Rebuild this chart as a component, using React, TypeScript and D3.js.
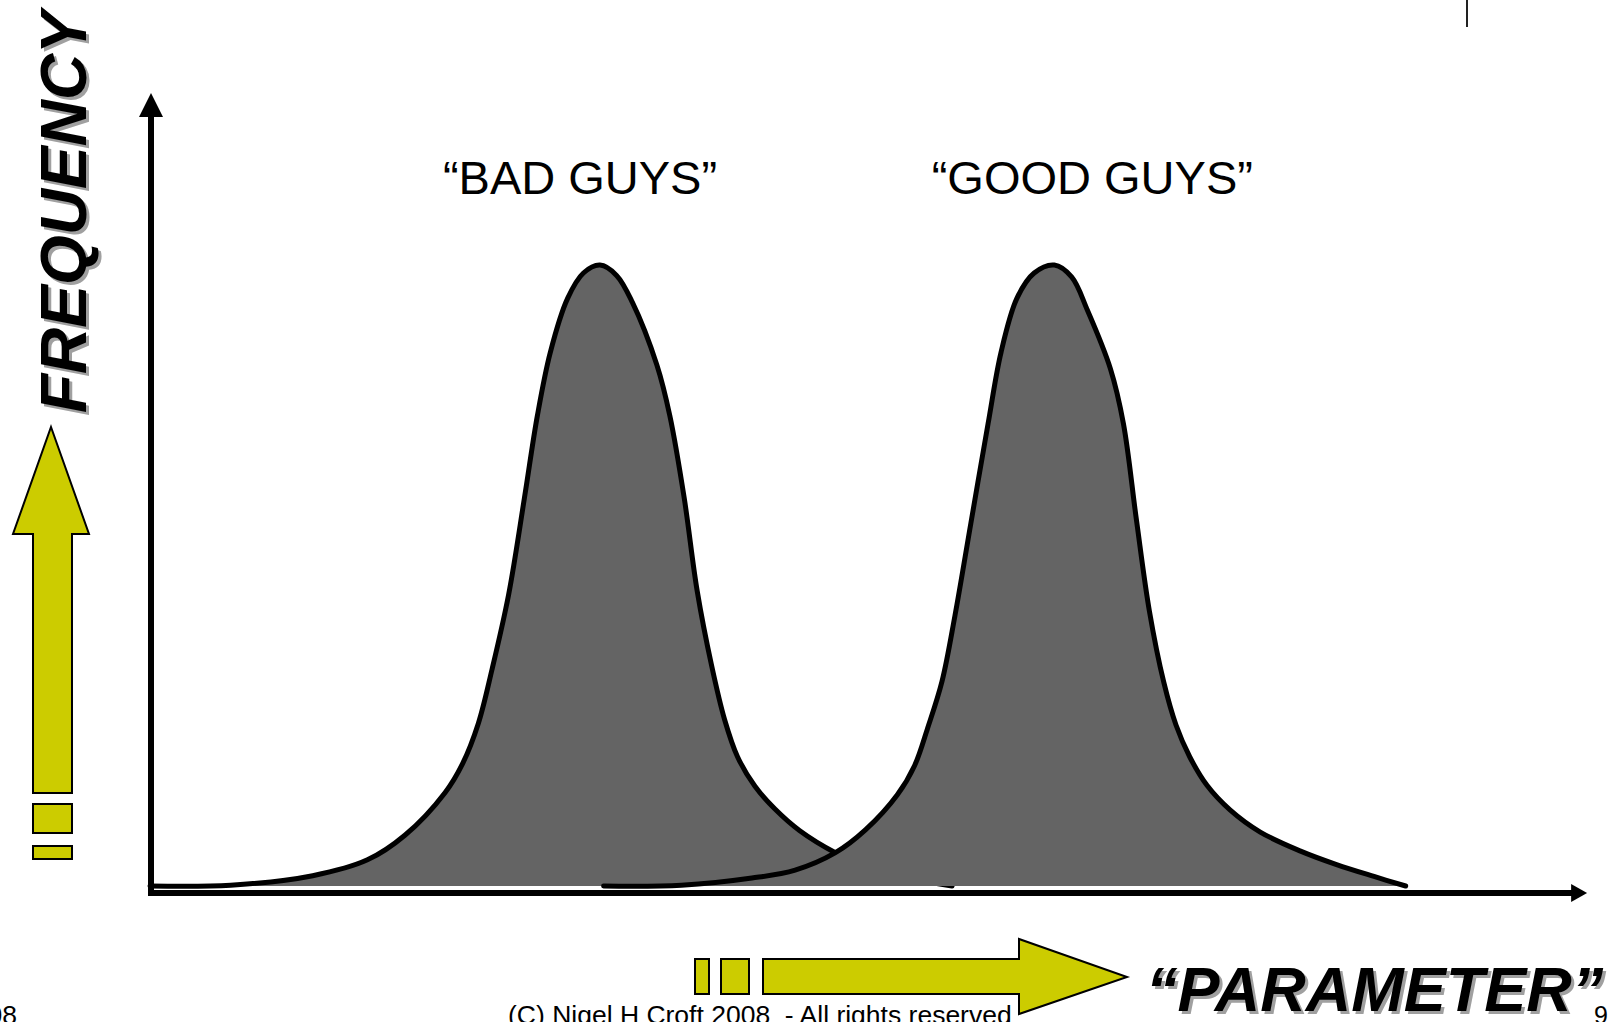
import React from 'react';
import * as d3 from 'd3';

// "bad guys" distribution (parameter 0-100, frequency 0-100)
const badParam = [0, 5.6, 11.3, 15.1, 17.7, 20.5, 21.7, 22.8, 23.75, 24.9, 26.0, 26.9, 27.8, 29.0, 30.1, 31.25, 32.4, 33.5, 35.2, 36.1, 37.1, 38.0, 39.0, 39.9, 40.8, 42.0, 43.4, 45.1, 47.6, 50.7, 55.7];
const badFreq = [0, 0.1, 1.3, 3.3, 6.4, 11.8, 15.4, 20.5, 27.3, 36.7, 48.9, 59.3, 67.3, 74.1, 77.3, 78.3, 77.0, 73.6, 65.7, 59.3, 48.9, 37.2, 27.8, 21.0, 16.3, 12.6, 9.7, 7.0, 4.2, 1.8, 0];

// "good guys" distribution
const goodParam = [31.5, 36.9, 41.8, 44.8, 47.6, 49.7, 51.9, 53.1, 54.0, 55.0, 55.9, 57.0, 58.2, 59.1, 60.2, 61.4, 62.8, 64.0, 65.1, 66.7, 67.6, 68.5, 69.4, 70.4, 71.25, 72.2, 73.4, 75.0, 77.1, 79.9, 82.4, 85.0, 87.2];
const goodFreq = [0, 0.1, 1.0, 2.0, 4.2, 7.1, 11.5, 15.2, 19.9, 25.8, 34.1, 45.7, 58.3, 67.3, 74.1, 77.3, 78.3, 76.8, 72.6, 65.2, 58.3, 46.2, 34.7, 25.7, 20.3, 16.3, 12.7, 9.6, 6.8, 4.4, 2.7, 1.2, 0];

const groupLabels = ['\u201CBAD GUYS\u201D', '\u201CGOOD GUYS\u201D'];
const xLabel = '\u201CPARAMETER\u201D';
const yLabel = 'FREQUENCY';
const footer = '(C) Nigel H Croft 2008  - All rights reserved';

const W = 1619;
const H = 1022;
const FONT = '"Liberation Sans", Arial, Helvetica, sans-serif';
const YELLOW = '#cccc00';
const GREY = '#646464';

const x = d3.scaleLinear().domain([0, 100]).range([150, 1590]);
const y = d3.scaleLinear().domain([0, 100]).range([886, 93]);

type Pt = { p: number; f: number };

const toPts = (ps: number[], fs: number[]): Pt[] => ps.map((p, i) => ({ p, f: fs[i] }));

const smooth = d3.curveCatmullRom.alpha(0.5);
const line = d3.line<Pt>().x(d => x(d.p)).y(d => y(d.f)).curve(smooth);
const area = d3.area<Pt>().x(d => x(d.p)).y0(y(0)).y1(d => y(d.f)).curve(smooth);

const Curve = ({ pts }: { pts: Pt[] }) => (
  <g>
    <path d={area(pts) || ''} fill={GREY} />
    <path d={line(pts) || ''} fill="none" stroke="#000" strokeWidth={5} strokeLinecap="round" strokeLinejoin="round" />
  </g>
);

const App = () => {
  const bad = toPts(badParam, badFreq);
  const good = toPts(goodParam, goodFreq);
  const axisY = y(0) + 7;
  const axisX = x(0) + 1;
  const tipX = x(99.8);
  const tipY = y(100);
  const peakBad = badParam[d3.maxIndex(badFreq)];
  const peakGood = goodParam[d3.maxIndex(goodFreq)];

  return (
    <svg width={W} height={H} style={{ position: 'absolute', left: 0, top: 0, display: 'block', background: '#fff' }} fontFamily={FONT}>
      {/* stray slide mark */}
      <line x1={1467} x2={1467} y1={0} y2={27} stroke="#222" strokeWidth={2} />

      {/* distributions */}
      <Curve pts={bad} />
      <Curve pts={good} />

      {/* axes */}
      <line x1={axisX} x2={axisX} y1={axisY + 2} y2={tipY + 20} stroke="#000" strokeWidth={6} />
      <path d={`M${axisX},${tipY} L${axisX + 12},${tipY + 24} L${axisX - 12},${tipY + 24} Z`} fill="#000" />
      <line x1={axisX - 3} x2={tipX - 12} y1={axisY} y2={axisY} stroke="#000" strokeWidth={6} />
      <path d={`M${tipX},${axisY} L${tipX - 16},${axisY - 9} L${tipX - 16},${axisY + 9} Z`} fill="#000" />

      {/* group labels */}
      <text x={x(peakBad) - 20} y={194} fontSize={47} textAnchor="middle">{groupLabels[0]}</text>
      <text x={x(peakGood) + 38} y={194} fontSize={47} textAnchor="middle">{groupLabels[1]}</text>

      {/* vertical yellow arrow */}
      <g fill={YELLOW} stroke="#000" strokeWidth={2}>
        <path d="M51,427 L89,534 L72,534 L72,793 L33,793 L33,534 L13,534 Z" />
        <rect x={33} y={804} width={39} height={29} />
        <rect x={33} y={846} width={39} height={13} />
      </g>

      {/* horizontal yellow arrow */}
      <g fill={YELLOW} stroke="#000" strokeWidth={2}>
        <path d="M763,959 L1019,959 L1019,939 L1127,977 L1019,1014 L1019,994 L763,994 Z" />
        <rect x={721} y={959} width={28} height={35} />
        <rect x={695} y={959} width={14} height={35} />
      </g>

      {/* axis titles with shadow */}
      <g fontWeight="bold" fontStyle="italic" fontSize={64}>
        <text transform="translate(89,416) rotate(-90)" fill="#a0a0a0">{yLabel}</text>
        <text transform="translate(86,413) rotate(-90)" fill="#000">{yLabel}</text>
      </g>
      <g fontWeight="bold" fontStyle="italic" fontSize={63}>
        <text x={1149} y={1014} fill="#a0a0a0">{xLabel}</text>
        <text x={1146} y={1011} fill="#000">{xLabel}</text>
      </g>

      {/* footer */}
      <text x={508} y={1024} fontSize={26.5} style={{ whiteSpace: 'pre' }}>{footer}</text>
      <text x={17} y={1024} fontSize={26.5} textAnchor="end">2008</text>
      <text x={1594} y={1024} fontSize={25}>9</text>
    </svg>
  );
};

export default App;
